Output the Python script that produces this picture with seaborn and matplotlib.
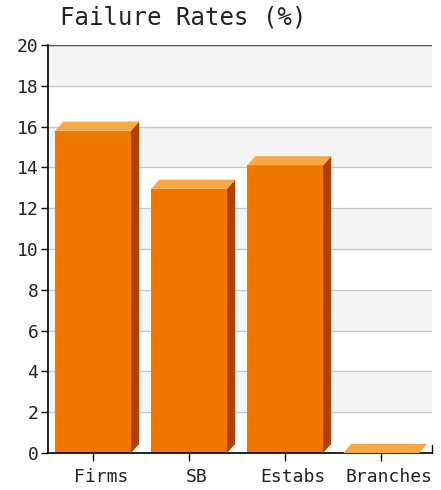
import matplotlib
matplotlib.use("Agg")
import matplotlib.pyplot as plt
from matplotlib.patches import Polygon
from matplotlib.transforms import ScaledTranslation
import seaborn as sns

sns.set_style("white")
plt.rcParams['font.family'] = ['DejaVu Sans Mono', 'DejaVu Sans']

# data
categories = ["Firms", "SB", "Estabs", "Branches"]
rates = [15.8, 12.95, 14.1, 0.0]
y_ticks = [0, 2, 4, 6, 8, 10, 12, 14, 16, 18, 20]

front_col = "#f07800"
top_col = "#f8a844"
side_col = "#b04000"
dx, dy = 0.085, 0.45  # depth of the fake 3d bars (category units, value units)

fig = plt.figure(figsize=(4.41, 4.90), dpi=100)
ax = fig.add_axes([48 / 441, 37 / 490, 384 / 441, 408 / 490])

# alternating background bands
for lo in range(2, 20, 4):
    ax.axhspan(lo, lo + 2, color="#f4f4f4", zorder=0, lw=0)
for t in y_ticks[1:]:
    ax.axhline(t, color="#c8c8c8", lw=1, zorder=1)
ax.axhline(20, color="#555555", lw=1, zorder=1)

sns.barplot(x=categories, y=rates, color=front_col, saturation=1,
            width=0.79, edgecolor="none", ax=ax, zorder=2)

# add top and side faces to each bar
for p in ax.containers[0]:
    x0, w, h = p.get_x(), p.get_width(), p.get_height()
    x1 = x0 + w
    top = Polygon([(x0, h), (x1, h), (x1 + dx, h + dy), (x0 + dx, h + dy)],
                  closed=True, fc=top_col, ec="none", zorder=3)
    side = Polygon([(x1, 0), (x1 + dx, dy), (x1 + dx, h + dy), (x1, h)],
                   closed=True, fc=side_col, ec="none", zorder=3)
    ax.add_patch(side)
    ax.add_patch(top)

ax.set_xlim(-0.47, 3.53)
ax.set_ylim(0, 20)
ax.set_yticks(y_ticks)
ax.set_yticklabels([str(t) for t in y_ticks], fontsize=13, color="#222222")
ax.tick_params(axis="x", labelsize=13, length=6, width=1, color="black", pad=5,
               labelcolor="#222222", bottom=True)
ax.tick_params(axis="y", length=5, width=1, color="black", pad=2, left=True)
shift = ScaledTranslation(8 / 100, 0, fig.dpi_scale_trans)
for lab in ax.get_xticklabels():
    lab.set_transform(lab.get_transform() + shift)

for s in ["top", "right"]:
    ax.spines[s].set_visible(False)
for s in ["left", "bottom"]:
    ax.spines[s].set_color("black")
    ax.spines[s].set_linewidth(1.2)
ax.plot([1, 1], [0, 0.02], transform=ax.transAxes, color="black", lw=1, clip_on=False)

fig.text(60 / 441, 1 - 18 / 490, "Failure Rates (%)", fontsize=17.3,
         va="center", ha="left", color="#222222")

fig.savefig("out.png", dpi=100)
